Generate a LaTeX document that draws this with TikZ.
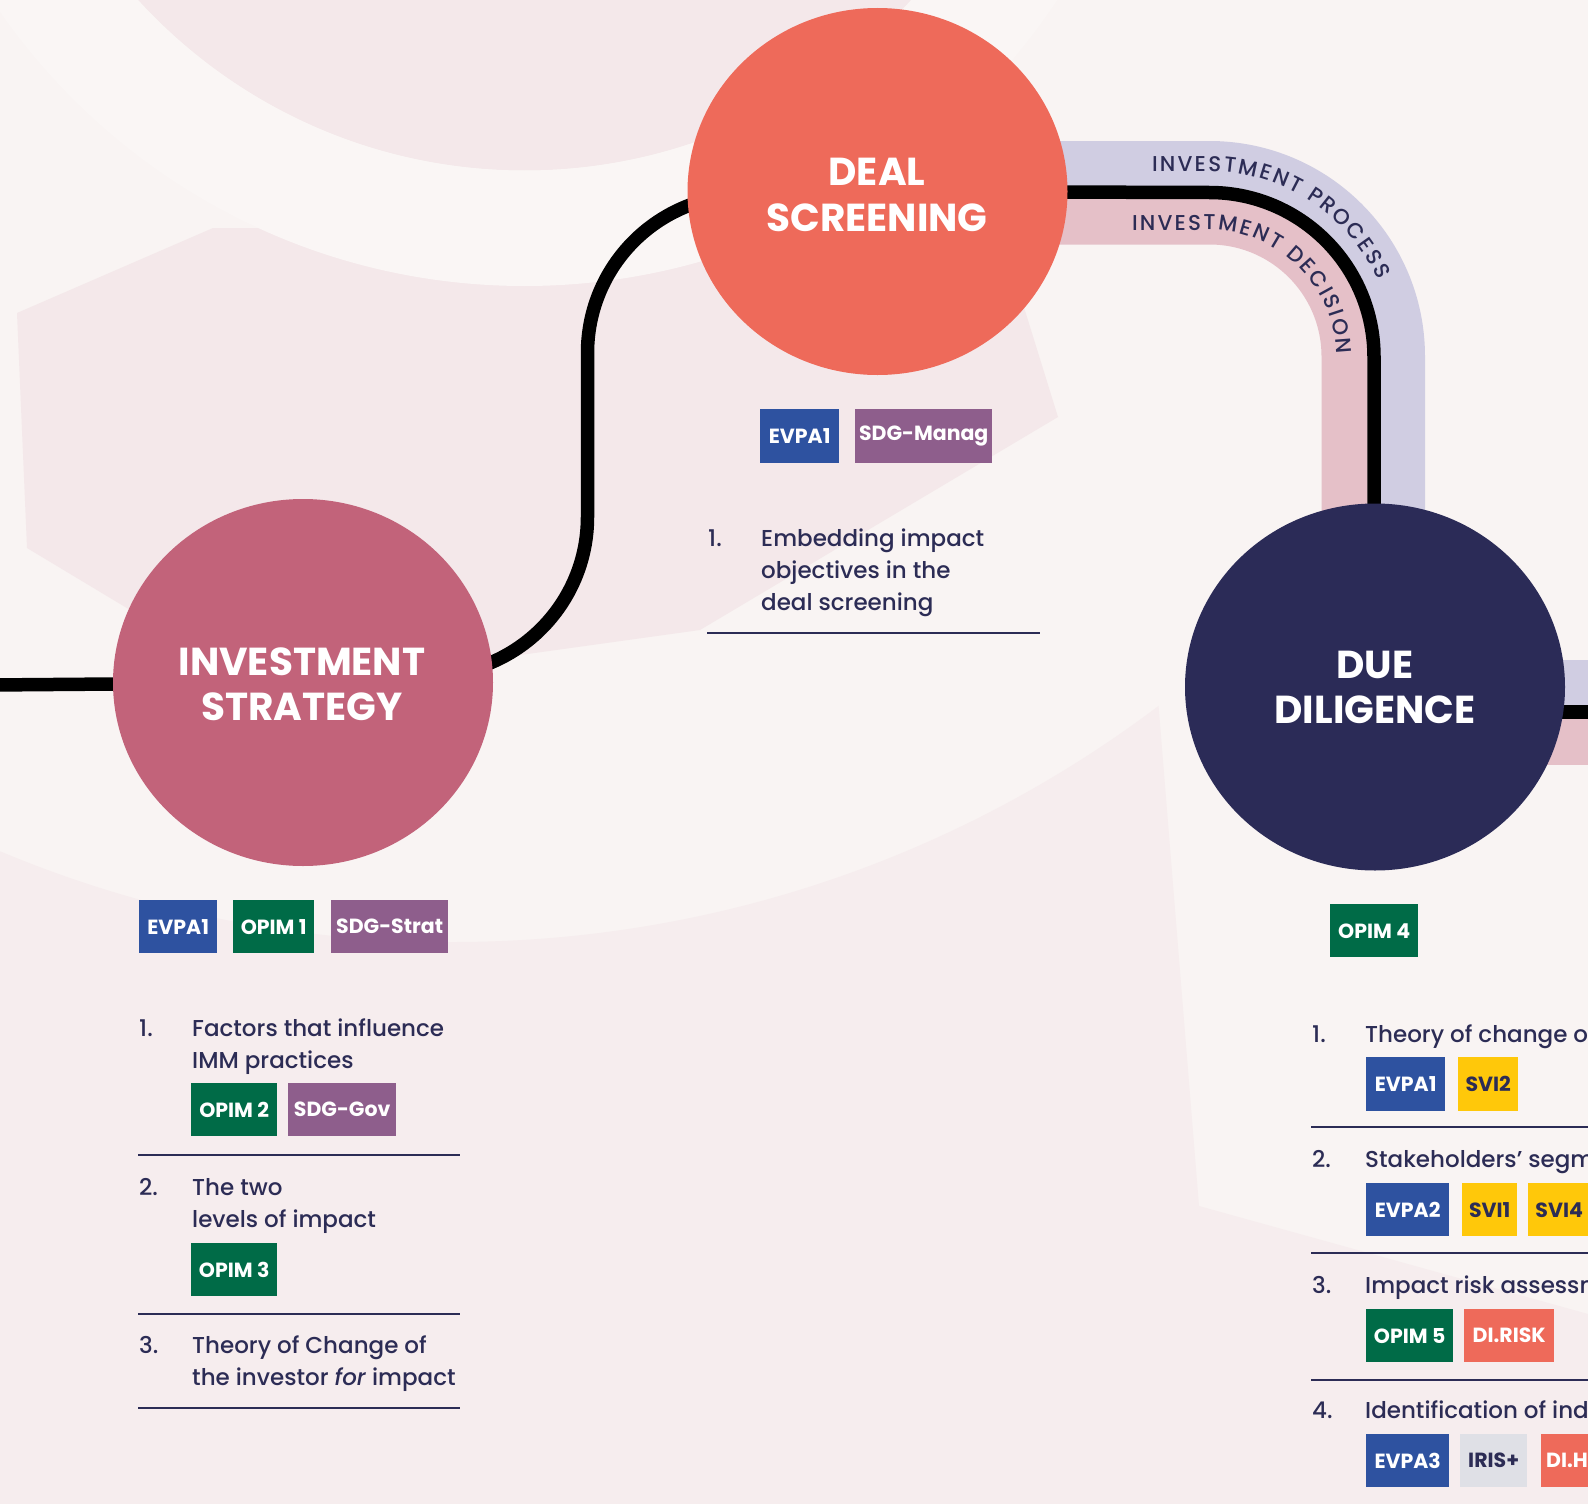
\documentclass[tikz,border=0pt]{standalone}
\usepackage{fontspec}
\setmainfont{Poppins}[UprightFont=* Medium, ItalicFont=* Medium Italic, BoldFont=* Bold]
\usetikzlibrary{shapes.geometric,decorations.text}
\definecolor{bgbase}{HTML}{F9F4F3}
\definecolor{bglow}{HTML}{F6EDEE}
\definecolor{bgdark}{HTML}{F4E8EA}
\definecolor{bglight}{HTML}{FAF6F5}
\definecolor{navy}{HTML}{2C2C55}
\definecolor{cds}{HTML}{EE6A5A}
\definecolor{cis}{HTML}{C2637A}
\definecolor{cdd}{HTML}{2B2B57}
\definecolor{lav}{HTML}{D0CDE2}
\definecolor{pinkband}{HTML}{E5C0C8}
\definecolor{cevpa}{HTML}{2E52A0}
\definecolor{copim}{HTML}{006B47}
\definecolor{csdg}{HTML}{8E5E8C}
\definecolor{csvi}{HTML}{FFC80A}
\definecolor{ciris}{HTML}{DFE0E6}
\definecolor{cdi}{HTML}{EE6A5A}
\newcommand{\tagfont}{\fontsize{20.5}{20.5}\selectfont\bfseries}
\newcommand{\titlefont}{\fontsize{39}{39}\selectfont\bfseries}
\newcommand{\itemfont}{\fontsize{23}{23}\selectfont}
\newcommand{\curvefont}{\fontsize{21.5}{21.5}\selectfont\color{navy}}
\pgfdeclarelayer{deco}
\pgfdeclarelayer{lines}
\pgfsetlayers{deco,lines,main}
\begin{document}
\begin{tikzpicture}[x=1pt,y=1pt,
  bigcircle/.style={ellipse, inner sep=0, minimum width=380, minimum height=367},
  title/.style={anchor=base, text=white, font=\titlefont, inner sep=0},
  tagbase/.style={anchor=north west, inner sep=0, minimum height=53, font=\tagfont, text=white},
  evpa/.style={tagbase, fill=cevpa},
  opim/.style={tagbase, fill=copim},
  sdg/.style={tagbase, fill=csdg},
  svi/.style={tagbase, fill=csvi, text=navy},
  iris/.style={tagbase, fill=ciris, text=navy},
  di/.style={tagbase, fill=cdi},
  item/.style={anchor=base west, inner sep=0, text=navy, font=\itemfont},
  rule/.style={draw=navy, line width=1.4},
  blackline/.style={draw=black, line width=13.5},
  lavline/.style={draw=lav, line width=45},
  pinkline/.style={draw=pinkband, line width=46}
]
\useasboundingbox (0,0) rectangle (1588,-1504);

% ---------- background decoration ----------
\begin{pgfonlayer}{deco}
\clip (0,0) rectangle (1588,-1504);
\fill[bgbase] (0,0) rectangle (1588,-1504);
\begin{scope}
  \clip (0,-600) -- (1150,-600) -- (1199,-1206) -- (1588,-1314) -- (1588,-1504) -- (0,-1504) -- cycle;
  \fill[bglow, even odd rule] (-10,10) rectangle (1598,-1514) (453,230) circle (1172);
\end{scope}
\fill[bgdark] (17,-313) -- (213,-228) -- (1000,-230) -- (1058,-417) -- (700,-630) -- (470,-662) -- (180,-640) -- (27,-548) -- cycle;
\fill[bgdark] (524.6,353) circle (523.5);
\fill[bglight, even odd rule] (524.6,353) circle (639) (524.6,353) circle (523.5);
\end{pgfonlayer}

% ---------- stage circles ----------
\node[bigcircle, fill=cis] (is) at (303,-682.5) {};
\node[bigcircle, fill=cds] (ds) at (877.5,-191.5) {};
\node[bigcircle, fill=cdd] (dd) at (1375,-687) {};

\node[title] (ist1) at (302,-675) {INVESTMENT};
\node[title] (ist2) at (302,-720) {STRATEGY};
\node[title] (dst1) at (877,-185) {DEAL};
\node[title] (dst2) at (877,-231) {SCREENING};
\node[title] (ddt1) at (1375,-678) {DUE};
\node[title] (ddt2) at (1375,-723) {DILIGENCE};

\coordinate (lend) at (-10,-685);
\coordinate (rendlav) at (1600,-682.5);
\coordinate (rendblk) at (1600,-712);
\coordinate (rendpink) at (1600,-741.5);

% ---------- connectors ----------
\begin{pgfonlayer}{lines}
\draw[lavline] (ds.center |- 0,-163.5) -- (1209.5,-163.5) arc[start angle=90,end angle=0,radius=193] -- (1402.5,-687);
\draw[pinkline] (ds.center |- 0,-221.5) -- (1209.5,-221.5) arc[start angle=90,end angle=0,radius=135] -- (1344.5,-687);
\draw[blackline] (ds.center) -- (1209.5,-192.5) arc[start angle=90,end angle=0,radius=164.5] -- (1374,-600) -- (dd.center);
\path[decorate, decoration={text along path, text align=left, text={|\curvefont|{I\kern2.2pt}{N\kern2.2pt}{V\kern2.2pt}{E\kern2.2pt}{S\kern2.2pt}{T\kern2.2pt}{M\kern2.2pt}{E\kern2.2pt}{N\kern2.2pt}{T\kern2.2pt}{\ \kern1pt}{P\kern2.2pt}{R\kern2.2pt}{O\kern2.2pt}{C\kern2.2pt}{E\kern2.2pt}{S\kern2.2pt}{S}}}]
  (1152,-171.5) -- (1209.5,-171.5) arc[start angle=90,end angle=0,radius=185] -- (1394.5,-520);
\path[decorate, decoration={text along path, text align=left, text={|\curvefont|{I\kern2.2pt}{N\kern2.2pt}{V\kern2.2pt}{E\kern2.2pt}{S\kern2.2pt}{T\kern2.2pt}{M\kern2.2pt}{E\kern2.2pt}{N\kern2.2pt}{T\kern2.2pt}{\ \kern1pt}{D\kern2.2pt}{E\kern2.2pt}{C\kern2.2pt}{I\kern2.2pt}{S\kern2.2pt}{I\kern2.2pt}{O\kern2.2pt}{N}}}]
  (1132,-230) -- (1209.5,-230) arc[start angle=90,end angle=0,radius=126.5] -- (1336,-520);
\draw[lavline] (dd.center |- 0,-682.5) -- (rendlav);
\draw[pinkline] (dd.center |- 0,-741.5) -- (rendpink);
\draw[blackline] (dd.center |- 0,-712) -- (rendblk);
\draw[blackline] (lend) -- (is.center);
\draw[blackline] (is.center) -- (429.5,-675) arc[start angle=-90,end angle=0,radius=158] -- (587.5,-353) arc[start angle=180,end angle=90,radius=158] -- (ds.center);
\end{pgfonlayer}

% ---------- Investment strategy column ----------
\node[evpa, minimum width=78] (is_t1) at (139,-900) {EVPA1};
\node[opim, minimum width=81] (is_t2) at (233,-900) {OPIM 1};
\node[sdg, minimum width=117] (is_t3) at (331,-900) {SDG-Strat};

\node[item] (is_n1) at (139,-1036.5) {1.};
\node[item] (is_1a) at (192,-1036.5) {Factors that influence};
\node[item] (is_1b) at (192,-1068.5) {IMM practices};
\node[opim, minimum width=86] (is_t4) at (191,-1083) {OPIM 2};
\node[sdg, minimum width=108] (is_t5) at (288,-1083) {SDG-Gov};
\draw[rule] (138,-1155) -- (460,-1155);
\node[item] (is_n2) at (139,-1195) {2.};
\node[item] (is_2a) at (192,-1195) {The two};
\node[item] (is_2b) at (192,-1227) {levels of impact};
\node[opim, minimum width=86] (is_t6) at (191,-1243) {OPIM 3};
\draw[rule] (138,-1314) -- (460,-1314);
\node[item] (is_n3) at (139,-1353) {3.};
\node[item] (is_3a) at (192,-1353) {Theory of Change of};
\node[item] (is_3b) at (192,-1385) {the investor \textit{for} impact};
\draw[rule] (138,-1408) -- (460,-1408);

% ---------- Deal screening column ----------
\node[evpa, minimum width=79, minimum height=54] (ds_t1) at (760,-409) {EVPA1};
\node[sdg, minimum width=137, minimum height=54] (ds_t2) at (855,-409) {SDG-Manag};
\node[item] (ds_n1) at (708,-546) {1.};
\node[item] (ds_1a) at (761,-546) {Embedding impact};
\node[item] (ds_1b) at (761,-578) {objectives in the};
\node[item] (ds_1c) at (761,-610) {deal screening};
\draw[rule] (707,-633) -- (1040,-633);

% ---------- Due diligence column ----------
\node[opim, minimum width=88] (dd_t0) at (1330,-904) {OPIM 4};
\node[item] (dd_n1) at (1312,-1042) {1.};
\node[item] (dd_1a) at (1365,-1042) {Theory of change of};
\node[evpa, minimum width=79, minimum height=54] (dd_t1) at (1366,-1057) {EVPA1};
\node[svi, minimum width=60, minimum height=54] (dd_t2) at (1458,-1057) {SVI2};
\draw[rule] (1311,-1127) -- (1600,-1127);
\node[item] (dd_n2) at (1312,-1167) {2.};
\node[item] (dd_2a) at (1365,-1167) {Stakeholders’ segmentation};
\node[evpa, minimum width=83] (dd_t3) at (1366,-1183) {EVPA2};
\node[svi, minimum width=55] (dd_t4) at (1462,-1183) {SVI1};
\node[svi, minimum width=62] (dd_t5) at (1528,-1183) {SVI4};
\draw[rule] (1311,-1253) -- (1600,-1253);
\node[item] (dd_n3) at (1312,-1293) {3.};
\node[item] (dd_3a) at (1365,-1293) {Impact risk assessment};
\node[opim, minimum width=87] (dd_t6) at (1366,-1309) {OPIM 5};
\node[di, minimum width=90] (dd_t7) at (1464,-1309) {DI.RISK};
\draw[rule] (1311,-1380) -- (1600,-1380);
\node[item] (dd_n4) at (1312,-1418) {4.};
\node[item] (dd_4a) at (1365,-1418) {Identification of indicators};
\node[evpa, minimum width=83] (dd_t8) at (1366,-1434) {EVPA3};
\node[iris, minimum width=67] (dd_t9) at (1460,-1434) {IRIS+};
\node[di, minimum width=70, text width=64, align=left, inner xsep=5] (dd_t10) at (1541,-1434) {DI.H};
\end{tikzpicture}
\end{document}
